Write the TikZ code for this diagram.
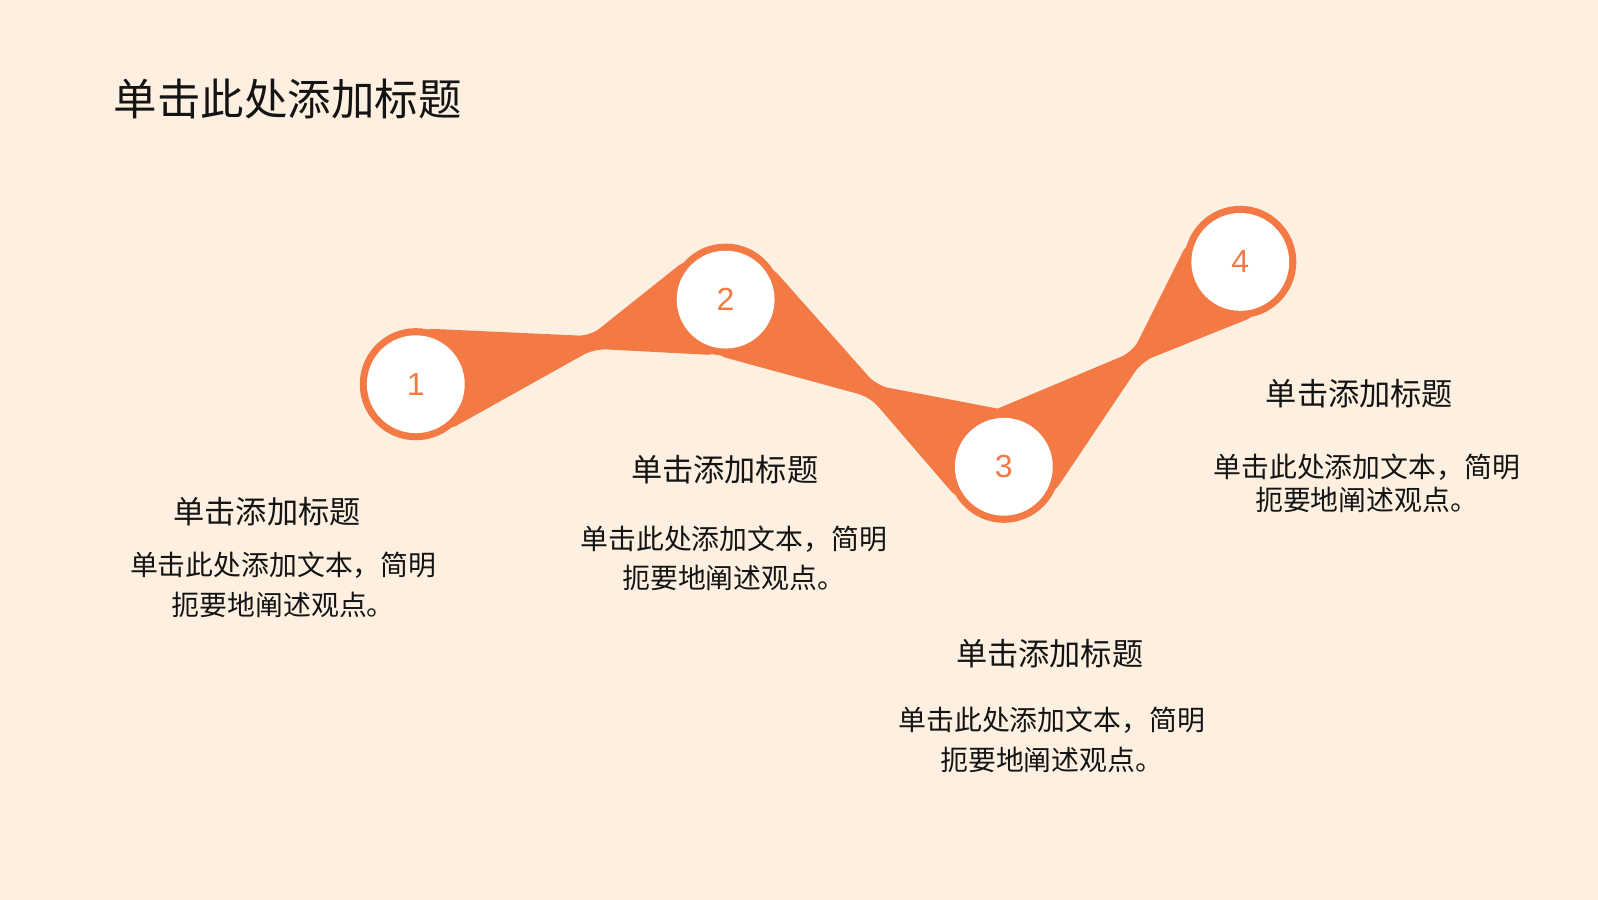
\documentclass[tikz,border=0pt]{standalone}
\usepackage{fontspec}
\setmainfont{Noto Sans CJK SC}
\newfontfamily\numfont{Liberation Sans}
\usetikzlibrary{calc,positioning}
\definecolor{bgcream}{HTML}{FDF0E1}
\definecolor{accent}{HTML}{F37A44}
\definecolor{textdark}{HTML}{141414}
\newcommand{\pxu}{0.7644pt}
\tikzset{%
	ring/.style     = {circle, fill=accent, minimum size=110*\pxu, inner sep=0pt, outer sep=0pt},
	hole/.style     = {circle, fill=white, minimum size=96*\pxu, inner sep=0pt, text=accent, font=\numfont\fontsize{24}{24}\selectfont},
	band/.style     = {fill=accent, rounded corners=9pt},
	title/.style    = {text=textdark, font=\fontsize{32.6}{38}\selectfont},
	heading/.style  = {text=textdark, font=\fontsize{23.4}{28}\selectfont},
	body/.style     = {text=textdark, align=center, font=\fontsize{20.9}{29.6}\selectfont},
}

\begin{document}
\begin{tikzpicture}[x=\pxu,y=-\pxu]
	\fill[bgcream] (0,0) rectangle (1568,883);
	\useasboundingbox (0,0) rectangle (1568,883);
	\node [title, anchor=west] (T) at (107,97) {单击此处添加标题};
	% rings
	\node [ring] (c1) at (408,377) {};
	\node [ring] (c2) at (712,294) {};
	\node [ring] (c3) at (985,458) {};
	\node [ring] (c4) at (1217,257) {};
	\coordinate (w12) at (581,336);
	\coordinate (w23) at (857,384);
	\coordinate (w34) at (1116,350);
	% bands between rings
	\foreach \a/\b/\w in {c1/c2/w12, c2/c3/w23, c3/c4/w34}{
		\fill[band] (tangent cs:node=\a,point={(\w)},solution=1)
			-- ($(\w)!5pt!90:(\b)$)
			-- (tangent cs:node=\b,point={(\w)},solution=2)
			-- (tangent cs:node=\b,point={(\w)},solution=1)
			-- ($(\w)!5pt!-90:(\b)$)
			-- (tangent cs:node=\a,point={(\w)},solution=2) -- cycle;
	}
	\node [hole] (n1) at (c1) {1};
	\node [hole] (n2) at (c2) {2};
	\node [hole] (n3) at (c3) {3};
	\node [hole] (n4) at (c4) {4};
	% texts
	\node [heading] (h1) at (262,502) {单击添加标题};
	\node [body] (b1) at (278,574) {单击此处添加文本，简明\\扼要地阐述观点。};
	\node [heading] (h2) at (711,461) {单击添加标题};
	\node [body] (b2) at (720,548) {单击此处添加文本，简明\\扼要地阐述观点。};
	\node [heading] (h3) at (1030,641) {单击添加标题};
	\node [body] (b3) at (1032,726) {单击此处添加文本，简明\\扼要地阐述观点。};
	\node [heading] (h4) at (1334,386) {单击添加标题};
	\node [body, font=\fontsize{20.9}{24.5}\selectfont] (b4) at (1341,474) {单击此处添加文本，简明\\扼要地阐述观点。};
\end{tikzpicture}
\end{document}
